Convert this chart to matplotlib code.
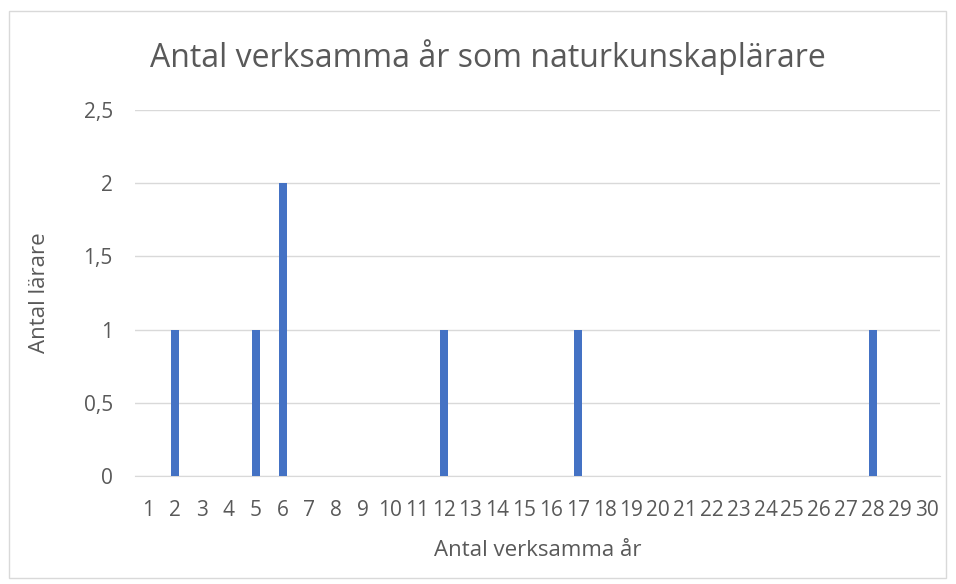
import matplotlib.pyplot as plt
from matplotlib.patches import Rectangle
from matplotlib.ticker import FuncFormatter

years = list(range(1, 31))
teachers = [0, 1, 0, 0, 1, 2, 0, 0, 0, 0, 0, 1, 0, 0, 0, 0, 1, 0, 0, 0,
            0, 0, 0, 0, 0, 0, 0, 1, 0, 0]
y_ticks = [0, 0.5, 1, 1.5, 2, 2.5]

text_color = '#595959'
plt.rcParams['font.family'] = ['Open Sans', 'DejaVu Sans']

fig = plt.figure(figsize=(9.56, 5.84), dpi=100)
fig.patches.append(Rectangle((9 / 956, 1 - 578 / 584), 937 / 956, 567 / 584,
                             transform=fig.transFigure, fill=False,
                             edgecolor='#d9d9d9', linewidth=1))
ax = fig.add_axes([0.1412, 0.185, 0.842, 0.6267])

ax.bar(years, teachers, width=0.3, color='#4472c4', zorder=3)

ax.set_xlim(0.5, 30.5)
ax.set_ylim(0, 2.5)
ax.set_xticks(years)
ax.set_yticks(y_ticks)
ax.yaxis.set_major_formatter(FuncFormatter(lambda v, p: f'{v:g}'.replace('.', ',')))
ax.grid(axis='y', color='#d9d9d9', linewidth=1, zorder=0)
for s in ['top', 'right', 'left']:
    ax.spines[s].set_visible(False)
ax.spines['bottom'].set_color('#d9d9d9')
ax.tick_params(length=0, colors=text_color, labelsize=15)
ax.tick_params(axis='x', pad=17)
ax.tick_params(axis='y', pad=16)

ax.set_xlabel('Antal verksamma år', color=text_color, fontsize=16, labelpad=14)
ax.set_ylabel('Antal lärare', color=text_color, fontsize=16, labelpad=24)
fig.text(0.51, 1 - 57 / 584, 'Antal verksamma år som naturkunskaplärare',
         ha='center', va='center', color=text_color, fontsize=23)

fig.savefig('out.png', dpi=100)
